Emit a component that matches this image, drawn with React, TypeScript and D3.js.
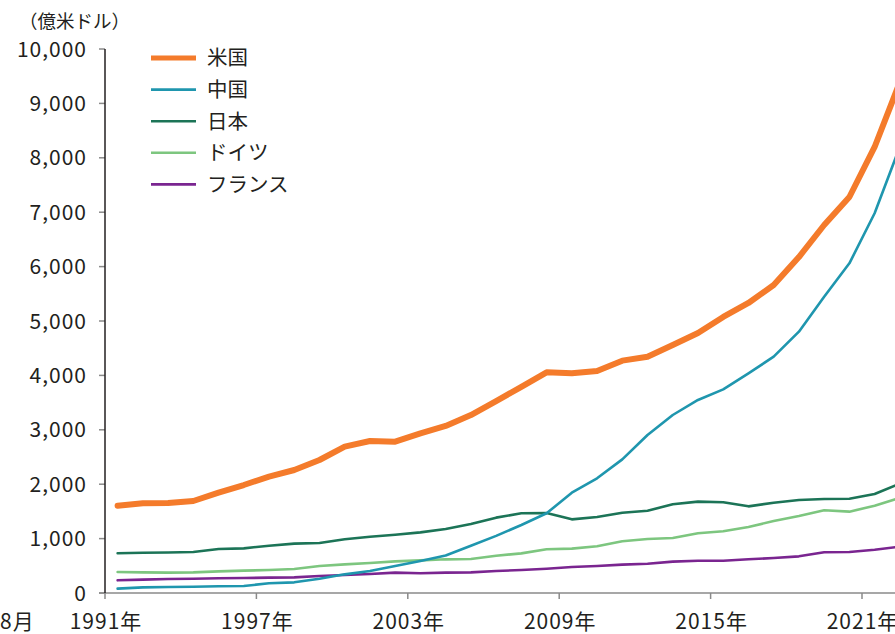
import React, { useEffect, useRef } from "react";
import * as d3 from "d3";

// 研究開発費の推移（億米ドル）
const years = d3.range(1991, 2023);
const yTicks = [0, 1000, 2000, 3000, 4000, 5000, 6000, 7000, 8000, 9000, 10000];
const xTickYears = [1991, 1997, 2003, 2009, 2015, 2021];

const usa = [1605, 1649, 1654, 1691, 1844, 1985, 2139, 2261, 2445, 2690, 2794, 2782, 2935, 3070, 3272, 3529, 3790, 4056, 4038, 4081, 4271, 4344, 4559, 4779, 5074, 5331, 5662, 6176, 6765, 7279, 8199, 9390];
const china = [80, 104, 110, 116, 123, 129, 178, 196, 263, 343, 404, 496, 588, 690, 870, 1050, 1250, 1465, 1844, 2108, 2457, 2904, 3272, 3548, 3744, 4038, 4344, 4804, 5447, 6060, 6980, 8205];
const japan = [730, 741, 744, 754, 809, 821, 870, 907, 919, 987, 1035, 1072, 1115, 1176, 1268, 1385, 1465, 1471, 1354, 1397, 1476, 1513, 1630, 1679, 1667, 1593, 1660, 1710, 1728, 1733, 1820, 2010];
const germany = [386, 380, 374, 380, 398, 411, 423, 441, 496, 527, 551, 582, 600, 619, 625, 686, 729, 803, 815, 858, 950, 993, 1011, 1097, 1134, 1213, 1324, 1415, 1520, 1495, 1605, 1751];
const france = [233, 245, 257, 263, 270, 276, 282, 288, 312, 331, 349, 374, 362, 374, 380, 404, 423, 447, 478, 496, 521, 539, 576, 594, 594, 619, 643, 674, 748, 754, 796, 851];

const series = [
  { name: "米国", values: usa, color: "#f47b2b", width: 6 },
  { name: "中国", values: china, color: "#1f96ae", width: 2.6 },
  { name: "日本", values: japan, color: "#1c7457", width: 2.6 },
  { name: "ドイツ", values: germany, color: "#7dc67f", width: 2.6 },
  { name: "フランス", values: france, color: "#7a2590", width: 2.6 },
];

const font = "'Noto Sans CJK JP', 'Noto Sans', sans-serif";

const App = () => {
  const ref = useRef(null);

  useEffect(() => {
    const svg = d3.select(ref.current);
    svg.selectAll("*").remove();

    const left = 105;
    const step = (862 - 105) / 30;
    const x = d3
      .scaleBand()
      .domain(years.map(String))
      .range([left, left + step * years.length])
      .paddingInner(0)
      .paddingOuter(0);
    const y = d3.scaleLinear().domain([0, 10000]).range([593, 49]);
    const cx = (yr) => x(String(yr)) + x.bandwidth() / 2;

    // unit label
    svg
      .append("text")
      .attr("x", 19)
      .attr("y", 28)
      .attr("font-family", font)
      .attr("font-size", 18.5)
      .attr("fill", "#231f20")
      .text("（億米ドル）");

    // y axis
    const yAxis = svg.append("g");
    yAxis
      .selectAll("line.tick")
      .data(yTicks)
      .join("line")
      .attr("class", "tick")
      .attr("x1", left - 6)
      .attr("x2", left)
      .attr("y1", (d) => y(d))
      .attr("y2", (d) => y(d))
      .attr("stroke", "#8a8a8a")
      .attr("stroke-width", 1.5);
    yAxis
      .selectAll("text")
      .data(yTicks)
      .join("text")
      .attr("x", 87)
      .attr("y", (d) => y(d))
      .attr("dy", "0.36em")
      .attr("text-anchor", "end")
      .attr("font-family", font)
      .attr("font-size", 21)
      .attr("letter-spacing", 1)
      .attr("fill", "#231f20")
      .text((d) => d3.format(",")(d));

    // x axis
    const xAxis = svg.append("g");
    xAxis
      .append("line")
      .attr("x1", left - 6)
      .attr("x2", 895)
      .attr("y1", y(0))
      .attr("y2", y(0))
      .attr("stroke", "#8a8a8a")
      .attr("stroke-width", 1.5);
    xAxis
      .selectAll("line.tick")
      .data(xTickYears)
      .join("line")
      .attr("class", "tick")
      .attr("x1", (d) => x(String(d)))
      .attr("x2", (d) => x(String(d)))
      .attr("y1", y(0))
      .attr("y2", y(0) + 6)
      .attr("stroke", "#8a8a8a")
      .attr("stroke-width", 1.5);
    xAxis
      .selectAll("text")
      .data(xTickYears)
      .join("text")
      .attr("x", (d) => x(String(d)) + 1)
      .attr("y", 629)
      .attr("text-anchor", "middle")
      .attr("font-family", font)
      .attr("font-size", 21)
      .attr("letter-spacing", 1)
      .attr("fill", "#231f20")
      .text((d) => d + "年");
    svg
      .append("text")
      .attr("x", 0)
      .attr("y", 629)
      .attr("font-family", font)
      .attr("font-size", 21)
      .attr("letter-spacing", 1)
      .attr("fill", "#231f20")
      .text("8月");

    // y axis line on top of ticks
    svg
      .append("line")
      .attr("x1", left)
      .attr("x2", left)
      .attr("y1", y(10000))
      .attr("y2", y(0))
      .attr("stroke", "#231f20")
      .attr("stroke-width", 1.5);

    // lines (drawn back to front so 米国 sits on top)
    const line = d3
      .line()
      .x((d, i) => cx(years[i]))
      .y((d) => y(d));

    svg
      .append("g")
      .selectAll("path")
      .data(series.slice().reverse())
      .join("path")
      .attr("d", (d) => line(d.values))
      .attr("fill", "none")
      .attr("stroke", (d) => d.color)
      .attr("stroke-width", (d) => d.width)
      .attr("stroke-linejoin", "round")
      .attr("stroke-linecap", "round");

    // legend
    const legend = svg.append("g").attr("transform", "translate(151,58)");
    const row = legend
      .selectAll("g")
      .data(series)
      .join("g")
      .attr("transform", (d, i) => `translate(0,${i * 31.6})`);
    row
      .append("line")
      .attr("x1", 0)
      .attr("x2", 45)
      .attr("stroke", (d) => d.color)
      .attr("stroke-width", (d) => (d.width > 4 ? 5 : 2.6));
    row
      .append("text")
      .attr("x", 56)
      .attr("dy", "0.36em")
      .attr("font-family", font)
      .attr("font-size", 20.5)
      .attr("fill", "#231f20")
      .text((d) => d.name);
  }, []);

  return (
    <svg
      ref={ref}
      width="895"
      height="634"
      style={{ position: "absolute", left: 0, top: 0, background: "#fff" }}
    ></svg>
  );
};

export default App;
